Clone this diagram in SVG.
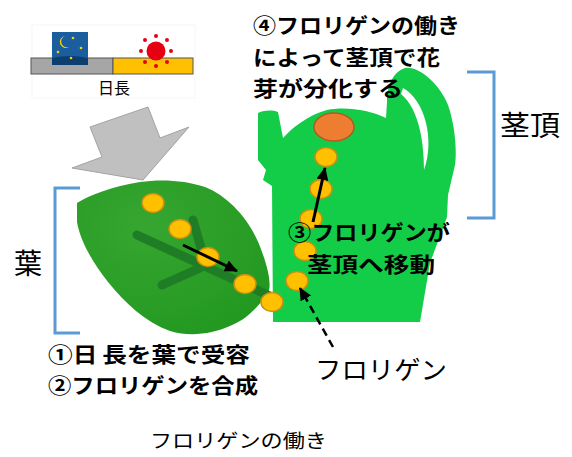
<svg xmlns="http://www.w3.org/2000/svg" width="572" height="457" viewBox="0 0 572 457">
  <defs>
    <style>
      .jp { font-family: "Noto Sans CJK JP", "Noto Sans", sans-serif; fill: #000; }
      .bold { font-weight: 700; }
      .dot { fill: #ffc000; stroke: #c98f12; stroke-width: 1.5; }
      .bracket { fill: none; stroke: #5b9bd5; stroke-width: 3; }
      .vein { fill: none; stroke: #1f7d26; stroke-width: 9; stroke-linecap: round; }
      .solid-arrow { fill: none; stroke: #000; stroke-width: 3; marker-end: url(#head); }
      .dash-arrow { fill: none; stroke: #000; stroke-width: 2.5; stroke-dasharray: 8 5; marker-end: url(#head); }
    </style>
    <marker id="head" markerUnits="userSpaceOnUse" markerWidth="14" markerHeight="14" viewBox="0 0 14 14" refX="12" refY="7" orient="auto">
      <path d="M0,1 L13,7 L0,13 Z" fill="#000"/>
    </marker>
    <radialGradient id="leafFill" cx="0.35" cy="0.3" r="0.8">
      <stop offset="0" stop-color="#36a630"/>
      <stop offset="1" stop-color="#229820"/>
    </radialGradient>
  </defs>

  <rect width="572" height="457" fill="#fff"/>

  <!-- day length indicator -->
  <g id="day-length">
    <rect x="32" y="25" width="163" height="73" fill="none" stroke="#f6f6f6" stroke-width="1"/>
    <rect x="31" y="58" width="82" height="16" fill="#a6a6a6" stroke="#555" stroke-width="1"/>
    <rect x="113" y="58" width="80" height="16" fill="#ffc000" stroke="#555" stroke-width="1"/>
    <rect x="52" y="32" width="36" height="33" fill="#1b5e9e"/>
    <path d="M52,58 Q70,54 88,58 L88,65 L52,65 Z" fill="#0e3d70"/>
    <path d="M65,36 A6,6 0 1 0 69,47 A5,5 0 1 1 65,36 Z" fill="#ffcc00"/>
    <circle cx="73" cy="38" r="1.3" fill="#ffcc00"/>
    <circle cx="81" cy="48" r="1.3" fill="#ffcc00"/>
    <circle cx="58" cy="52" r="1.3" fill="#ffcc00"/>
    <circle cx="71" cy="58" r="1.3" fill="#ffcc00"/>
    <circle cx="156" cy="51" r="9.5" fill="#e60012"/>
    <g fill="#e60012">
      <circle cx="156" cy="36" r="2"/>
      <circle cx="167" cy="40" r="2"/>
      <circle cx="171" cy="51" r="2"/>
      <circle cx="167" cy="62" r="2"/>
      <circle cx="156" cy="66" r="2"/>
      <circle cx="145" cy="62" r="2"/>
      <circle cx="141" cy="51" r="2"/>
      <circle cx="145" cy="40" r="2"/>
    </g>
    <text class="jp" x="114" y="94" font-size="16" text-anchor="middle">日長</text>
  </g>

  <!-- incoming light arrow -->
  <g id="light-arrow">
    <polygon points="90,127 148,107 160,138 189,127 143,180 72,168 102,157" fill="#c0c0c0" stroke="#a3a3a3" stroke-width="1"/>
  </g>

  <!-- stem apex -->
  <g id="stem">
    <path d="M258,113 C262,111 270,109 278,112 L283,138 C292,128 308,115 327,110 C345,106 370,110 386,118 L387,102 C387,88 392,72 405,68 C420,66 440,85 448,105 C455,125 457,150 455,165 L448,195 L447,217 L430,263 L420,322 L273,322 L272,186 L263,180 L266,170 L258,160 Z" fill="#13cd48"/>
    <path d="M403,88 C425,100 435,140 424,170 C424,145 420,110 401,94 Z" fill="#fff"/>
    <ellipse cx="334" cy="127" rx="20" ry="14" fill="#ed7d31" stroke="#b45a22" stroke-width="1.5"/>
  </g>

  <!-- leaf -->
  <g id="leaf">
    <path d="M77,203 C90,195 110,187 140,182 C160,179 185,180 205,187 C230,197 252,222 262,252 C268,268 272,285 268,294 C258,305 250,318 230,326 C212,334 190,337 170,331 C145,322 125,303 108,282 C92,262 80,240 77,222 Z" fill="url(#leafFill)"/>
    <path class="vein" d="M137,235 L272,297"/>
    <path class="vein" d="M193,220 L205,262"/>
    <path class="vein" d="M162,285 L200,268"/>
  </g>

  <!-- florigen particles -->
  <g id="florigen">
    <ellipse class="dot" cx="153" cy="203" rx="11" ry="9.5"/>
    <ellipse class="dot" cx="180" cy="229" rx="11" ry="9.5"/>
    <ellipse class="dot" cx="208" cy="257" rx="11" ry="9.5"/>
    <ellipse class="dot" cx="245" cy="284" rx="11" ry="9.5"/>
    <ellipse class="dot" cx="272" cy="302" rx="11" ry="9.5"/>
    <ellipse class="dot" cx="297" cy="281" rx="11" ry="9.5"/>
    <ellipse class="dot" cx="305" cy="251" rx="11" ry="9.5"/>
    <ellipse class="dot" cx="311" cy="219" rx="11" ry="9.5"/>
    <ellipse class="dot" cx="321" cy="189" rx="11" ry="9.5"/>
    <ellipse class="dot" cx="326" cy="157" rx="11" ry="9.5"/>
  </g>

  <!-- brackets -->
  <g id="leaf-bracket">
    <path class="bracket" d="M80,188 L55,188 L55,333 L80,333"/>
    <text class="jp" x="28" y="274" font-size="28" text-anchor="middle">葉</text>
  </g>
  <g id="apex-bracket">
    <path class="bracket" d="M467,72 L494,72 L494,218 L467,218"/>
    <text class="jp" x="500" y="136" font-size="28" textLength="60" lengthAdjust="spacingAndGlyphs">茎頂</text>
  </g>

  <!-- connectors -->
  <g id="connectors">
    <path class="solid-arrow" d="M183,245 L237,271"/>
    <path class="solid-arrow" d="M313,222 L325,168"/>
    <path class="dash-arrow" d="M333,347 L300,288"/>
  </g>

  <!-- step labels -->
  <g id="step4">
    <text class="jp bold" x="253" y="33" font-size="21" textLength="207" lengthAdjust="spacingAndGlyphs">④フロリゲンの働き</text>
    <text class="jp bold" x="253" y="65" font-size="21" textLength="187" lengthAdjust="spacingAndGlyphs">によって茎頂で花</text>
    <text class="jp bold" x="253" y="96" font-size="21" textLength="150" lengthAdjust="spacingAndGlyphs">芽が分化する</text>
  </g>
  <g id="step3">
    <text class="jp bold" x="288" y="240" font-size="21" textLength="162" lengthAdjust="spacingAndGlyphs">③フロリゲンが</text>
    <text class="jp bold" x="307" y="272" font-size="21" textLength="128" lengthAdjust="spacingAndGlyphs">茎頂へ移動</text>
  </g>
  <g id="step12">
    <text class="jp bold" x="48" y="362" font-size="21" textLength="202" lengthAdjust="spacingAndGlyphs">①日&#8201;長を葉で受容</text>
    <text class="jp bold" x="48" y="393" font-size="21" textLength="210" lengthAdjust="spacingAndGlyphs">②フロリゲンを合成</text>
  </g>
  <g id="florigen-label">
    <text class="jp" x="315" y="379" font-size="25" textLength="132" lengthAdjust="spacingAndGlyphs">フロリゲン</text>
  </g>

  <text id="caption" class="jp" x="150" y="448" font-size="19" textLength="177" lengthAdjust="spacingAndGlyphs">フロリゲンの働き</text>
</svg>
